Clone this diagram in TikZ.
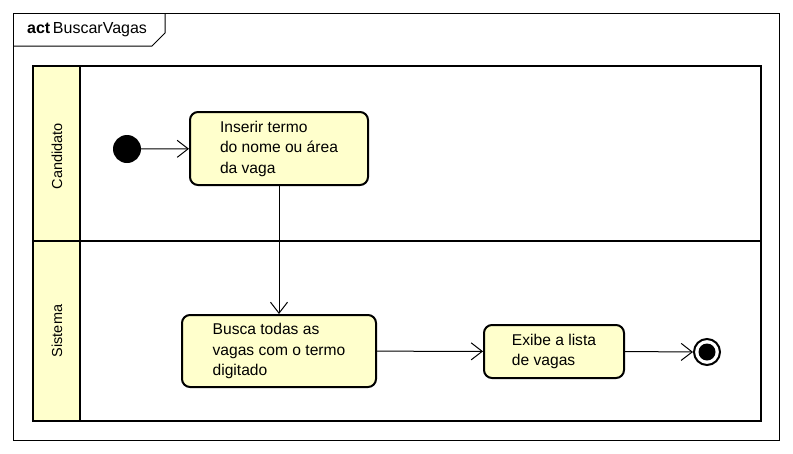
\documentclass[tikz,border=0pt]{standalone}
\usepackage{fontspec}
\setmainfont{Liberation Sans}
\usetikzlibrary{arrows.meta}
\definecolor{laneyellow}{HTML}{FFFFCC}
\definecolor{actyellow}{HTML}{FFFFCC}
\tikzset{
  action/.style={draw, line width=2pt, rounded corners=8pt, fill=actyellow, align=left, inner sep=0pt,
    font=\fontsize{15.6}{20.5}\selectfont},
  flow/.style={draw, line width=1pt, -{Straight Barb[length=11pt,width=17pt,line width=1pt]}},
  lanelabel/.style={rotate=90, font=\fontsize{14.5}{16}\selectfont},
}
\begin{document}
\begin{tikzpicture}[x=1pt,y=-1pt]
\useasboundingbox (0,0) rectangle (793,453);
% frame
\draw[line width=1pt] (13,13) rectangle (779,440);
\draw[line width=1pt] (13,46) -- (152,46) -- (165,33) -- (165,13);
\node[anchor=west, inner sep=0pt, font=\fontsize{16}{18}\selectfont] (title) at (27,30) {\textbf{act}\,BuscarVagas};
% swimlanes
\fill[laneyellow] (33,66) rectangle (80,421);
\draw[line width=2pt] (33,66) rectangle (761,421);
\draw[line width=2pt] (80,66) -- (80,421);
\draw[line width=2pt] (33,241) -- (761,241);
\node[lanelabel] (l1) at (57,156) {Candidato};
\node[lanelabel] (l2) at (57,331) {Sistema};
% nodes
\node[circle, fill=black, minimum size=28pt, inner sep=0pt] (init) at (127,149) {};
\node[action, minimum width=178pt, minimum height=73pt] (a1) at (279,148.5) {Inserir termo\\do nome ou área\\da vaga};
\node[action, minimum width=194pt, minimum height=72pt] (a2) at (279,351) {Busca todas as\\vagas com o termo\\digitado};
\node[action, minimum width=140pt, minimum height=53pt] (a3) at (554,351.5) {Exibe a lista\\de vagas};
\node[circle, draw=black, line width=2pt, fill=white, minimum size=26pt, inner sep=0pt] (final) at (707,352) {};
\node[circle, fill=black, minimum size=17pt, inner sep=0pt] (finalin) at (707,352) {};
% flows
\draw[flow] (init) -- (a1);
\draw[flow] (a1.south) -- (a2.north);
\draw[flow] (a2) -- (a3);
\draw[flow] (a3.east) -- (final.west);
\end{tikzpicture}
\end{document}
